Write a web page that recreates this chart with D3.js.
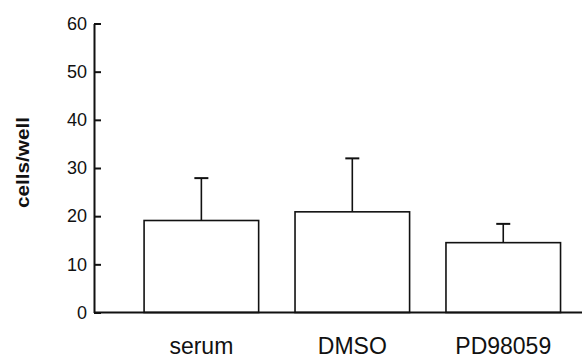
<!DOCTYPE html>
<html>
<head>
<meta charset="utf-8">
<script src="https://cdn.jsdelivr.net/npm/d3@7"></script>
<style>
	body { margin: 0; background: #fff; }
	text { font-family: "Liberation Sans", Arial, sans-serif; fill: #111; }
</style>
</head>
<body>
<div id="chart"></div>
<script>
const categories = ["serum", "DMSO", "PD98059"];
const means = [19.1, 20.9, 14.5];
const errors = [8.8, 11.1, 3.9];
const yTicks = [0, 10, 20, 30, 40, 50, 60];
const yLabel = "cells/well";

const width = 583, height = 359;
const margin = { top: 23.5, right: 1, bottom: 46.5, left: 94 };

const svg = d3.select("#chart")
	.append("svg")
	.attr("width", width)
	.attr("height", height);

const x = d3.scaleBand()
	.domain(categories)
	.range([margin.left, width - margin.right])
	.paddingInner(0.241)
	.paddingOuter(0.237)
	.align(0.7);

const y = d3.scaleLinear()
	.domain([0, 60])
	.range([height - margin.bottom, margin.top]);

// bars
svg.append("g")
	.selectAll("rect")
	.data(categories)
	.join("rect")
	.attr("x", d => x(d))
	.attr("y", (d, i) => y(means[i]))
	.attr("width", x.bandwidth())
	.attr("height", (d, i) => y(0) - y(means[i]))
	.attr("fill", "#fff")
	.attr("stroke", "#111")
	.attr("stroke-width", 1.6);

// error bars (upper only)
const err = svg.append("g")
	.attr("stroke", "#111")
	.attr("stroke-width", 1.6);
categories.forEach((c, i) => {
	const cx = x(c) + x.bandwidth() / 2;
	err.append("line")
		.attr("x1", cx).attr("x2", cx)
		.attr("y1", y(means[i])).attr("y2", y(means[i] + errors[i]));
	err.append("line")
		.attr("x1", cx - 7).attr("x2", cx + 7)
		.attr("y1", y(means[i] + errors[i])).attr("y2", y(means[i] + errors[i]))
		.attr("stroke-width", 2);
});

// y axis, ticks pointing inward
const yAxis = svg.append("g")
	.attr("transform", "translate(" + margin.left + ",0)")
	.call(d3.axisLeft(y).tickValues(yTicks).tickSize(-7).tickPadding(7).tickSizeOuter(0));
yAxis.select(".domain").attr("stroke", "#111").attr("stroke-width", 2);
yAxis.selectAll(".tick line").attr("stroke", "#111").attr("stroke-width", 2);
yAxis.selectAll("text")
	.style("font-family", "'Liberation Sans', Arial, sans-serif")
	.style("font-size", "18px")
	.attr("fill", "#111");

// x axis
const xAxis = svg.append("g")
	.attr("transform", "translate(0," + y(0) + ")")
	.call(d3.axisBottom(x).tickSize(0).tickPadding(25));
xAxis.select(".domain")
	.attr("d", "M" + margin.left + ",0H" + (width - margin.right))
	.attr("stroke", "#111").attr("stroke-width", 2);
xAxis.selectAll("text")
	.style("font-family", "'Liberation Sans', Arial, sans-serif")
	.style("font-size", "23px")
	.attr("fill", "#111");

// y label
svg.append("text")
	.attr("transform", "translate(29,162.5) rotate(-90)")
	.attr("text-anchor", "middle")
	.attr("textLength", 91)
	.attr("lengthAdjust", "spacingAndGlyphs")
	.style("font-size", "18px")
	.style("font-weight", "bold")
	.text(yLabel);
</script>
</body>
</html>
